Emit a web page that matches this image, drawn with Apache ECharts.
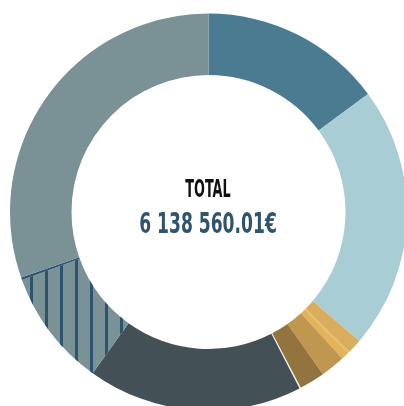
<!DOCTYPE html>
<html>
<head>
<meta charset="utf-8">
<script src="https://cdn.jsdelivr.net/npm/echarts@6/dist/echarts.min.js"></script>
<style>html,body{margin:0;padding:0;background:#fff}#c{width:404px;height:406px}</style>
</head>
<body>
<div id="c"></div>
<script>
const categories = ['A','B','C1','C2','C3','C4','C5','D','E','F','G','H'];
const values = [912258,1312970,73322,8526,39219,122771,127887,6821,1074248,584869,11936,1863736];
const colors = ['#4a7b91','#a9cdd4','#d8ae5e','#dfb96a','#e3b35a','#bf9750','#93743f','#e4edef','#435055','#7a9195','#2c5570','#7a9195'];
const totalLabel = 'TOTAL';
const totalValue = '6 138 560.01€';

const chart = echarts.init(document.getElementById('c'));
const data = categories.map((n,i)=>{
  const d = {name:n, value:values[i], itemStyle:{color:colors[i]}};
  if (n === 'F') {
    d.itemStyle.decal = {symbol:'rect', symbolSize:1, color:'#2a5470', dashArrayX:[2.5,11.15], dashArrayY:[20,0], rotation:0};
  }
  return d;
});
chart.setOption({
  animation:false,
  series:[{
    type:'pie',
    center:[208.5,212],
    radius:[137,198.5],
    startAngle:90,
    clockwise:true,
    label:{show:false},
    labelLine:{show:false},
    silent:true,
    data:data
  }],
  graphic:[
    {type:'text', x:208, y:190, scaleX:0.57, style:{text:totalLabel, font:'bold 25px "Liberation Sans Narrow","DejaVu Sans Condensed",sans-serif', fill:'#111', textAlign:'center', textVerticalAlign:'middle'}},
    {type:'text', x:208, y:225.5, scaleX:0.68, style:{text:totalValue, font:'bold 28px "Liberation Sans Narrow","DejaVu Sans Condensed",sans-serif', fill:'#2e5470', textAlign:'center', textVerticalAlign:'middle'}}
  ]
});
</script>
</body>
</html>
